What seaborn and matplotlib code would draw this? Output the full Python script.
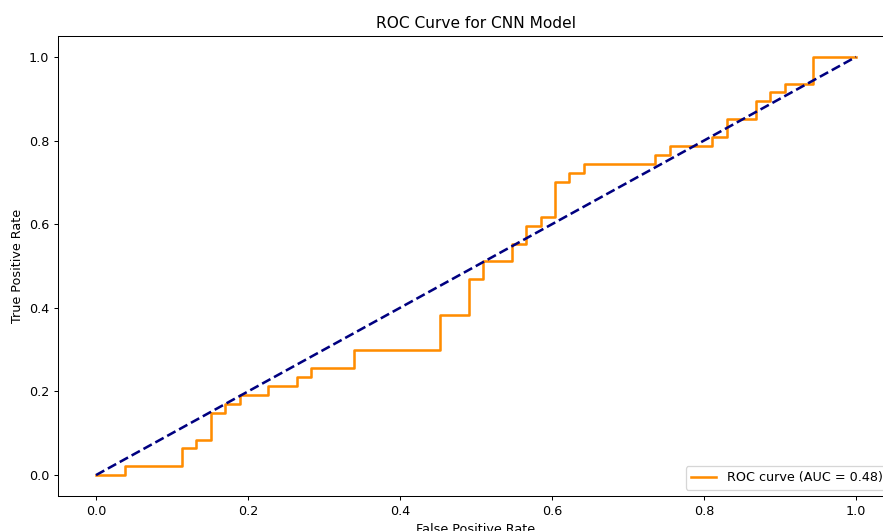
"""
ROC curve for the CNN model, redrawn from the notebook output.
"""

import matplotlib
matplotlib.use("Agg")
import matplotlib.pyplot as plt
import seaborn as sns
import pandas as pd

# ============================================================================
# Data (corner points of the ROC curve)
# ============================================================================
fpr = [0.0, 0.038, 0.038, 0.113, 0.113, 0.132, 0.132, 0.151, 0.151, 0.170,
       0.170, 0.189, 0.189, 0.226, 0.226, 0.264, 0.264, 0.283, 0.283, 0.340,
       0.340, 0.453, 0.453, 0.491, 0.491, 0.509, 0.509, 0.547, 0.547, 0.566,
       0.566, 0.585, 0.585, 0.604, 0.604, 0.623, 0.623, 0.642, 0.642, 0.736,
       0.736, 0.755, 0.755, 0.811, 0.811, 0.830, 0.830, 0.868, 0.868, 0.887,
       0.887, 0.906, 0.906, 0.943, 0.943, 1.0]
tpr = [0.0, 0.0, 0.021, 0.021, 0.064, 0.064, 0.085, 0.085, 0.149, 0.149,
       0.170, 0.170, 0.191, 0.191, 0.213, 0.213, 0.234, 0.234, 0.255, 0.255,
       0.298, 0.298, 0.383, 0.383, 0.468, 0.468, 0.511, 0.511, 0.553, 0.553,
       0.596, 0.596, 0.617, 0.617, 0.702, 0.702, 0.723, 0.723, 0.745, 0.745,
       0.766, 0.766, 0.787, 0.787, 0.809, 0.809, 0.851, 0.851, 0.894, 0.894,
       0.915, 0.915, 0.936, 0.936, 1.0, 1.0]
roc_auc = 0.48

chance_x = [0.0, 1.0]
chance_y = [0.0, 1.0]

roc_df = pd.DataFrame({"fpr": fpr, "tpr": tpr})

# ============================================================================
# Plot
# ============================================================================
DPI = 92  # the screenshot is a slightly downscaled notebook render
fig = plt.figure(figsize=(883 / DPI, 531 / DPI), dpi=DPI)
# the original screenshot is cropped on the right and bottom
ax = fig.add_axes([58 / 883, 1 - 496 / 531, (894 - 58) / 883, (496 - 36) / 531])

sns.lineplot(data=roc_df, x="fpr", y="tpr", sort=False, estimator=None,
             color="darkorange", lw=2, label=f"ROC curve (AUC = {roc_auc:.2f})", ax=ax)
ax.plot(chance_x, chance_y, color="navy", lw=2, linestyle="--")

ax.set_xlim(-0.05, 1.05)
ax.set_ylim(-0.05, 1.05)
ax.set_xlabel("False Positive Rate")
ax.set_ylabel("True Positive Rate")
ax.set_title("ROC Curve for CNN Model")
ax.legend(loc="lower right")

fig.savefig("out.png", dpi=DPI)
plt.close()
